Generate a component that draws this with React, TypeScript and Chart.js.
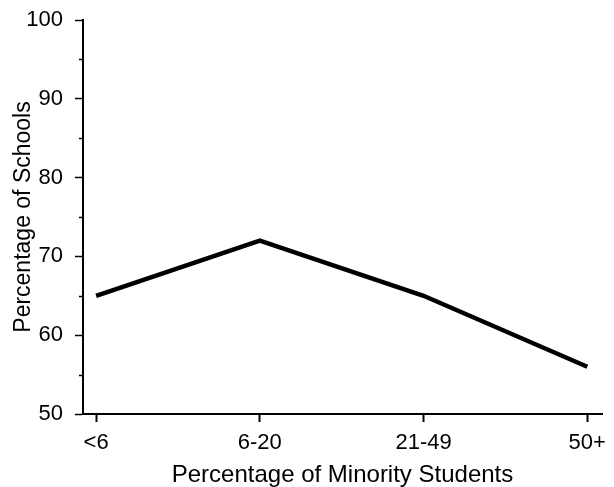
import React, { useEffect, useRef } from "react";
import { Chart, registerables } from "chart.js";

Chart.register(...registerables);

const categories = ["<6", "6-20", "21-49", "50+"];
const schoolPercentages = [65, 72, 65, 56];
const yTickValues = [50, 60, 70, 80, 90, 100];
const yMinorTickValues = [55, 65, 75, 85, 95];
const xTitle = "Percentage of Minority Students";
const yTitle = "Percentage of Schools";

const FONT = "'Liberation Sans', Arial, Helvetica, sans-serif";

const minorTicks = {
  id: "minorTicks",
  afterDraw(chart: any) {
    const y = chart.scales.y;
    const ctx = chart.ctx;
    ctx.save();
    ctx.strokeStyle = "#000";
    ctx.lineWidth = 1.5;
    for (const v of yMinorTickValues) {
      const py = Math.round(y.getPixelForValue(v)) + 0.5;
      ctx.beginPath();
      ctx.moveTo(y.right - 4, py);
      ctx.lineTo(y.right, py);
      ctx.stroke();
    }
    ctx.restore();
  },
};

export default function App() {
  const ref = useRef<HTMLCanvasElement>(null);
  useEffect(() => {
    if (!ref.current) return;
    const chart = new Chart(ref.current, {
      type: "line",
      data: {
        datasets: [
          {
            data: schoolPercentages.map((v, i) => ({ x: i, y: v })),
            borderColor: "#000",
            borderWidth: 4.5,
            pointRadius: 0,
            tension: 0,
            fill: false,
          },
        ],
      },
      options: {
        animation: false,
        responsive: false,
        layout: { padding: { left: 0, top: 20, right: 2, bottom: 0 } },
        plugins: { legend: { display: false }, tooltip: { enabled: false } },
        scales: {
          x: {
            type: "linear",
            min: -0.08,
            max: 3.09,
            afterBuildTicks: (s: any) => {
              s.ticks = categories.map((_, i) => ({ value: i }));
            },
            afterFit: (s: any) => {
              s.height = 73;
            },
            grid: {
              drawOnChartArea: false,
              drawTicks: true,
              tickLength: 8,
              tickColor: "#000",
              tickWidth: 2,
            },
            border: { display: true, color: "#000", width: 2 },
            ticks: {
              color: "#000",
              padding: 8,
              maxRotation: 0,
              autoSkip: false,
              font: { family: FONT, size: 22 },
              callback: (v: any) => categories[v] ?? "",
            },
            title: {
              display: true,
              text: xTitle,
              color: "#000",
              font: { family: FONT, size: 24, lineHeight: 1.0 },
              padding: { top: 0, bottom: 0 },
            },
          },
          y: {
            min: 50,
            max: 100,
            afterBuildTicks: (s: any) => {
              s.ticks = yTickValues.map((v) => ({ value: v }));
            },
            afterFit: (s: any) => {
              s.width = 83;
              s.paddingTop = 0;
              s.paddingBottom = 0;
            },
            grid: {
              drawOnChartArea: false,
              drawTicks: true,
              tickLength: 8,
              tickColor: "#000",
              tickWidth: 1.5,
            },
            border: { display: true, color: "#000", width: 2 },
            ticks: {
              color: "#000",
              padding: 12,
              font: { family: FONT, size: 22 },
              callback: (v: any) => String(v),
            },
            title: {
              display: true,
              text: yTitle,
              color: "#000",
              font: { family: FONT, size: 23 },
              padding: { top: 10, bottom: 0 },
            },
          },
        },
      },
      plugins: [minorTicks],
    });
    return () => chart.destroy();
  }, []);
  return (
    <div style={{ position: "fixed", left: 0, top: 0, width: 614, height: 487, background: "#fff" }}>
      <canvas ref={ref} width={614} height={487} />
    </div>
  );
}
